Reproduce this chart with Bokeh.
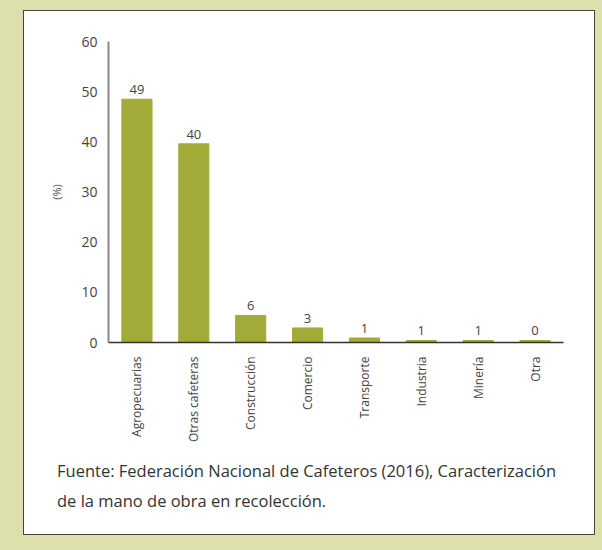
import math
from bokeh.plotting import figure
from bokeh.models import ColumnDataSource, Range1d, LabelSet, Div
from bokeh.layouts import column
from bokeh.core.properties import value
from bokeh.embed import file_html
from bokeh.resources import INLINE

categories = ["Agropecuarias", "Otras cafeteras", "Construcción", "Comercio",
              "Transporte", "Industria", "Minería", "Otra"]
values = [48.5, 39.6, 5.4, 2.9, 0.9, 0.4, 0.4, 0.4]
value_labels = ["49", "40", "6", "3", "1", "1", "1", "0"]
y_ticks = [0, 10, 20, 30, 40, 50, 60]
source_note = ("Fuente: Federación Nacional de Cafeteros (2016), Caracterización",
               "de la mano de obra en recolección.")

FONT = "Open Sans"
BAR = "#a2aa38"
OLIVE = "#dde0aa"

src = ColumnDataSource(dict(cat=categories, val=values, lab=value_labels))

p = figure(x_range=categories, y_range=Range1d(0, 60), width=568, height=434,
           output_backend="svg", toolbar_location=None,
           min_border_left=84, min_border_right=29, min_border_top=30,
           min_border_bottom=103)
p.x_range.range_padding = 0
p.vbar(x="cat", top="val", width=0.53, source=src, color=BAR)
p.add_layout(LabelSet(x="cat", y="val", text="lab", source=src,
                      text_align="center", text_baseline="bottom", y_offset=5,
                      text_font=value(FONT), text_font_size="13px",
                      text_color="#444444"))

p.xgrid.visible = False
p.ygrid.visible = False
p.outline_line_color = None
p.background_fill_color = "white"
p.border_fill_color = "white"

ya = p.yaxis[0]
ya.ticker = y_ticks
ya.axis_line_color = "#8a8a8a"
ya.axis_line_width = 2
ya.major_tick_line_color = None
ya.minor_tick_line_color = None
ya.major_label_text_font = FONT
ya.major_label_text_font_size = "14px"
ya.major_label_text_color = "#444444"
ya.major_label_standoff = 5
ya.axis_label = "(%)"
ya.axis_label_text_font = FONT
ya.axis_label_text_font_size = "11px"
ya.axis_label_text_font_style = "normal"
ya.axis_label_text_color = "#444444"
ya.axis_label_standoff = 14

xa = p.xaxis[0]
xa.axis_line_color = "#333333"
xa.axis_line_width = 1.5
xa.major_tick_line_color = None
xa.minor_tick_line_color = None
xa.major_label_orientation = math.pi / 2
xa.major_label_text_font = FONT
xa.major_label_text_font_size = "12px"
xa.major_label_text_color = "#444444"
xa.major_label_standoff = 8

note = Div(text="<br>".join(source_note), width=560, height=79,
           styles={"font-family": FONT, "font-size": "16.5px", "color": "#333333",
                   "line-height": "30px", "padding-left": "28px",
                   "padding-top": "6px", "white-space": "nowrap"})

layout = column(p, note, spacing=0,
                styles={"background-color": "white", "border": "1px solid #444444"},
                margin=(10, 0, 0, 23))

html = file_html(layout, INLINE)
html = html.replace("</head>", "<style>body{background-color:%s;}</style></head>" % OLIVE, 1)
open("out.html", "w").write(html)
